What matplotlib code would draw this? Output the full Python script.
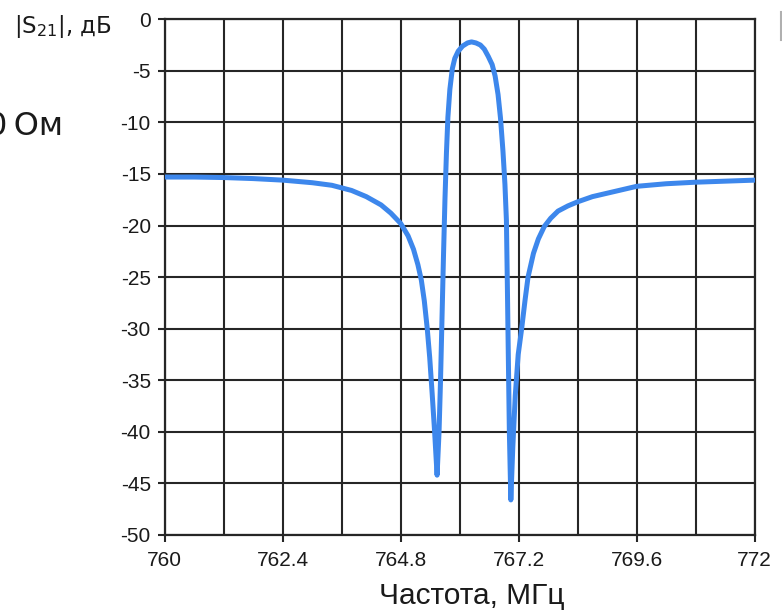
import matplotlib
matplotlib.use("Agg")
import matplotlib.pyplot as plt
from matplotlib.lines import Line2D
from matplotlib.ticker import FixedLocator

plt.rcParams['font.family'] = ['Liberation Sans', 'DejaVu Sans']
plt.rcParams['mathtext.fontset'] = 'dejavusans'

# Transmission |S21| of the filter vs frequency
freq_mhz = [760.0, 760.6, 761.2, 761.8, 762.4, 763.0, 763.4, 763.8, 764.1, 764.4,
            764.6, 764.8, 764.95, 765.06, 765.15, 765.22, 765.28, 765.34, 765.39, 765.44,
            765.49, 765.54, 765.58, 765.61, 765.64, 765.67, 765.7, 765.73, 765.76, 765.8,
            765.85, 765.9, 765.97, 766.06, 766.16, 766.24, 766.33, 766.42, 766.5, 766.58,
            766.66, 766.72, 766.78, 766.83, 766.88, 766.92, 766.95, 766.97, 766.99, 767.01,
            767.04, 767.08, 767.13, 767.19, 767.26, 767.33, 767.39, 767.5, 767.6, 767.72,
            767.85, 768.0, 768.2, 768.4, 768.7, 769.06, 769.6, 770.2, 770.8, 771.4,
            772.0]
s21_db = [-15.3, -15.3, -15.35, -15.45, -15.6, -15.85, -16.1, -16.6, -17.2, -18.0,
          -18.8, -19.8, -21.0, -22.3, -23.8, -25.3, -27.3, -30.0, -32.8, -36.3,
          -40.0, -44.2, -40.0, -35.0, -29.0, -23.0, -17.5, -13.0, -9.5, -6.8,
          -4.8, -3.8, -3.1, -2.6, -2.3, -2.2, -2.3, -2.5, -2.9, -3.6,
          -4.4, -5.5, -7.3, -9.6, -12.8, -16.0, -19.5, -26.0, -33.0, -40.0,
          -46.6, -41.5, -36.5, -32.5, -30.0, -27.2, -25.0, -22.7, -21.3, -20.1,
          -19.3, -18.6, -18.1, -17.7, -17.2, -16.8, -16.2, -15.95, -15.8, -15.7,
          -15.6]

x_ticks = [760, 762.4, 764.8, 767.2, 769.6, 772]
x_tick_labels = ['760', '762.4', '764.8', '767.2', '769.6', '772']
x_minor_grid = [761.2, 763.6, 766.0, 768.4, 770.8]
y_ticks = list(range(-50, 1, 5))

W, H = 782, 613
fig = plt.figure(figsize=(W / 100, H / 100), dpi=100)
fig.patch.set_facecolor('white')
ax = fig.add_axes([164.7 / W, 1 - 535 / H, (754.7 - 164.7) / W, (535 - 19.2) / H])

ax.plot(freq_mhz, s21_db, color='#3d87ec', lw=3.6, solid_capstyle='round',
        solid_joinstyle='round', zorder=3)

ax.set_xlim(760, 772)
ax.set_ylim(-50, 0)
ax.set_xticks(x_ticks)
ax.set_xticklabels(x_tick_labels)
ax.xaxis.set_minor_locator(FixedLocator(x_minor_grid))
ax.set_yticks(y_ticks)
ax.set_yticklabels([str(v) for v in y_ticks])

grid_color = '#262626'
ax.grid(True, which='both', axis='x', color=grid_color, lw=1.5)
ax.grid(True, which='major', axis='y', color=grid_color, lw=1.5)
ax.tick_params(axis='x', which='minor', length=0)
ax.tick_params(axis='both', which='major', direction='out', length=5, width=1.5,
               color=grid_color, labelsize=15, labelcolor='#1a1a1a')
ax.tick_params(axis='x', which='major', pad=6.5)
ax.tick_params(axis='y', which='major', pad=5)
for sp in ax.spines.values():
    sp.set_color(grid_color)
    sp.set_linewidth(1.6)
ax.set_axisbelow(True)

fig.text(472 / W, 1 - 604 / H, 'Частота, МГц', fontsize=21.5, color='#1a1a1a',
         ha='center', va='baseline')

fig.text(14 / W, 1 - 33 / H, r'|S$_{21}$|, дБ', fontsize=16.5, color='#1a1a1a',
         family='DejaVu Sans', ha='left', va='baseline')
fig.text(-13 / W, 1 - 135 / H, '0\u2009Ом', fontsize=23, color='#1a1a1a',
         family='DejaVu Sans', ha='left', va='baseline')
fig.add_artist(Line2D([781 / W, 781 / W], [1 - 12 / H, 1 - 40 / H],
                      transform=fig.transFigure, color='#b0b0b0', lw=1.5))

fig.savefig('out.png', dpi=100)
